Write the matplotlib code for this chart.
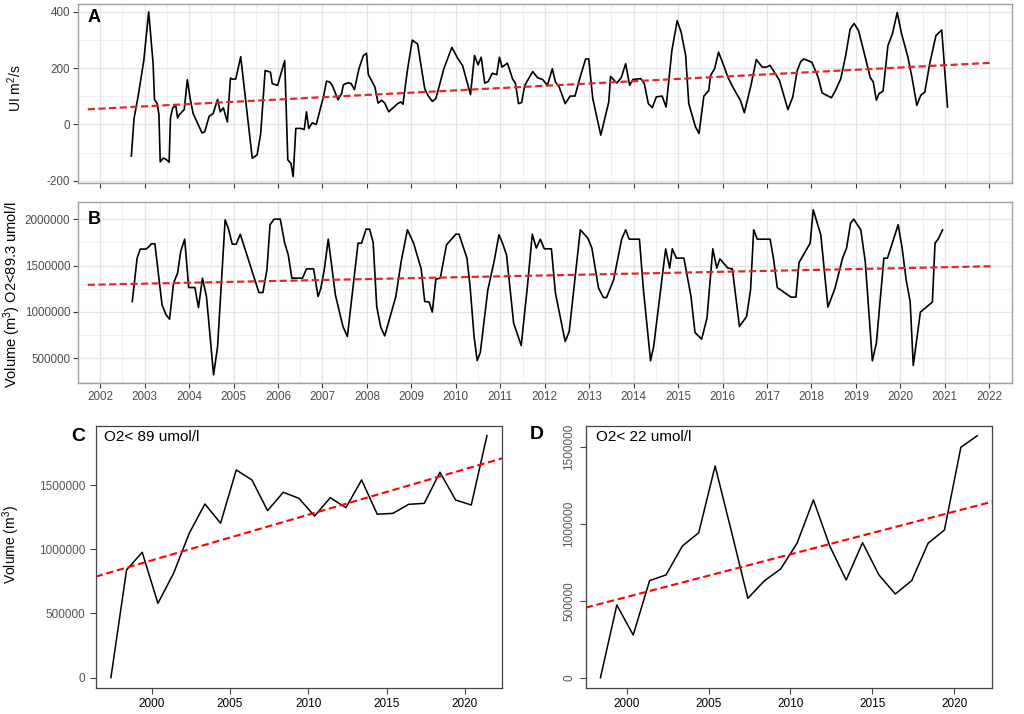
import matplotlib
matplotlib.use("Agg")
import matplotlib.pyplot as plt
from matplotlib.ticker import FuncFormatter

plt.rcParams['font.family'] = ['Liberation Sans', 'DejaVu Sans']
plt.rcParams['mathtext.fontset'] = 'custom'
plt.rcParams['mathtext.rm'] = 'Liberation Sans'
plt.rcParams['mathtext.it'] = 'Liberation Sans'

# panel A: upwelling index, monthly (decimal year, value)
a_years = [2002.70, 2002.76, 2002.85, 2002.98, 2003.09, 2003.19, 2003.22, 2003.28, 2003.32, 2003.35,
           2003.42, 2003.48, 2003.55, 2003.58, 2003.63, 2003.70, 2003.74, 2003.78, 2003.89, 2003.96,
           2004.03, 2004.09, 2004.29, 2004.35, 2004.45, 2004.54, 2004.64, 2004.70, 2004.77, 2004.86,
           2004.93, 2004.97, 2005.05, 2005.16, 2005.42, 2005.53, 2005.61, 2005.71, 2005.83, 2005.87,
           2005.99, 2006.15, 2006.22, 2006.29, 2006.34, 2006.40, 2006.51, 2006.59, 2006.64, 2006.69,
           2006.77, 2006.86, 2006.96, 2007.03, 2007.09, 2007.16, 2007.22, 2007.35, 2007.43, 2007.47,
           2007.57, 2007.64, 2007.72, 2007.82, 2007.92, 2007.99, 2008.03, 2008.18, 2008.25, 2008.33,
           2008.40, 2008.49, 2008.69, 2008.76, 2008.81, 2008.91, 2009.02, 2009.14, 2009.30, 2009.37,
           2009.47, 2009.55, 2009.73, 2009.91, 2010.05, 2010.15, 2010.33, 2010.42, 2010.50, 2010.57,
           2010.65, 2010.73, 2010.82, 2010.92, 2010.98, 2011.04, 2011.16, 2011.28, 2011.34, 2011.41,
           2011.48, 2011.55, 2011.73, 2011.84, 2011.95, 2012.06, 2012.17, 2012.24, 2012.32, 2012.46,
           2012.57, 2012.68, 2012.79, 2012.92, 2012.99, 2013.08, 2013.26, 2013.44, 2013.48, 2013.62,
           2013.72, 2013.82, 2013.91, 2013.98, 2014.16, 2014.24, 2014.33, 2014.42, 2014.51, 2014.64,
           2014.73, 2014.86, 2014.98, 2015.07, 2015.17, 2015.24, 2015.39, 2015.47, 2015.58, 2015.69,
           2015.73, 2015.82, 2015.91, 2016.02, 2016.12, 2016.23, 2016.40, 2016.49, 2016.63, 2016.76,
           2016.89, 2016.99, 2017.07, 2017.14, 2017.28, 2017.47, 2017.58, 2017.68, 2017.76, 2017.83,
           2018.01, 2018.15, 2018.24, 2018.45, 2018.55, 2018.66, 2018.77, 2018.87, 2018.96, 2019.06,
           2019.21, 2019.32, 2019.39, 2019.46, 2019.52, 2019.61, 2019.72, 2019.82, 2019.93, 2020.02,
           2020.17, 2020.26, 2020.37, 2020.46, 2020.55, 2020.66, 2020.80, 2020.93, 2021.06]
a_vals = [-112, 21, 98, 227, 400, 216, 89, 75, 36, -133,
          -119, -124, -134, 23, 59, 67, 23, 35, 53, 159,
          86, 39, -30, -26, 29, 39, 89, 45, 59, 9,
          165, 161, 162, 241, -120, -108, -32, 192, 186, 145,
          139, 227, -126, -138, -185, -14, -14, -18, 45, -14,
          6, 0, 62, 104, 154, 151, 139, 88, 110, 141,
          148, 146, 124, 198, 245, 253, 178, 133, 76, 86,
          76, 45, 74, 80, 72, 192, 300, 286, 127, 104,
          82, 92, 198, 274, 233, 210, 106, 245, 212, 239,
          147, 153, 182, 177, 239, 204, 218, 160, 147, 74,
          78, 139, 188, 166, 160, 139, 198, 151, 135, 74,
          101, 101, 165, 233, 233, 92, -38, 80, 171, 147,
          166, 216, 139, 160, 163, 145, 74, 60, 98, 101,
          62, 263, 369, 327, 245, 74, -8, -32, 101, 121,
          174, 198, 257, 212, 168, 133, 86, 42, 133, 231,
          204, 204, 210, 192, 157, 53, 98, 192, 224, 233,
          221, 168, 112, 95, 124, 163, 245, 339, 359, 333,
          239, 168, 151, 86, 110, 118, 280, 322, 398, 327,
          239, 168, 68, 104, 115, 216, 316, 336, 62]
a_trend_years = [2001.72, 2022.03]
a_trend_vals = [54, 219]

# panel B: hypoxic volume O2<89.3 umol/l
b_years = [2002.72, 2002.83, 2002.90, 2003.03, 2003.10, 2003.15, 2003.23, 2003.39, 2003.48, 2003.56,
           2003.65, 2003.74, 2003.81, 2003.90, 2003.99, 2004.13, 2004.21, 2004.30, 2004.39, 2004.55,
           2004.64, 2004.81, 2004.88, 2004.97, 2005.06, 2005.15, 2005.57, 2005.66, 2005.75, 2005.82,
           2005.91, 2006.05, 2006.15, 2006.23, 2006.31, 2006.55, 2006.64, 2006.80, 2006.90, 2006.96,
           2007.04, 2007.13, 2007.29, 2007.46, 2007.56, 2007.80, 2007.88, 2007.98, 2008.06, 2008.14,
           2008.22, 2008.31, 2008.40, 2008.65, 2008.77, 2008.91, 2009.05, 2009.22, 2009.30, 2009.40,
           2009.47, 2009.55, 2009.65, 2009.79, 2010.00, 2010.07, 2010.25, 2010.32, 2010.41, 2010.48,
           2010.55, 2010.72, 2010.86, 2010.97, 2011.05, 2011.14, 2011.30, 2011.47, 2011.61, 2011.72,
           2011.81, 2011.90, 2011.99, 2012.15, 2012.24, 2012.46, 2012.55, 2012.80, 2012.97, 2013.06,
           2013.21, 2013.32, 2013.39, 2013.55, 2013.73, 2013.82, 2013.90, 2014.13, 2014.22, 2014.38,
           2014.45, 2014.72, 2014.81, 2014.87, 2014.96, 2015.13, 2015.29, 2015.38, 2015.53, 2015.65,
           2015.78, 2015.87, 2015.94, 2016.12, 2016.22, 2016.38, 2016.54, 2016.63, 2016.70, 2016.78,
           2017.07, 2017.15, 2017.23, 2017.54, 2017.65, 2017.72, 2017.97, 2018.04, 2018.21, 2018.37,
           2018.53, 2018.70, 2018.79, 2018.88, 2018.95, 2019.11, 2019.21, 2019.37, 2019.46, 2019.63,
           2019.71, 2019.95, 2020.04, 2020.13, 2020.22, 2020.29, 2020.45, 2020.72, 2020.78, 2020.85,
           2020.95]
b_vals = [1112000, 1580000, 1677000, 1677000, 1705000, 1734000, 1734000, 1077000, 969000, 922000,
          1310000, 1418000, 1651000, 1784000, 1263000, 1263000, 1047000, 1364000, 1166000, 322000,
          627000, 1992000, 1903000, 1731000, 1731000, 1838000, 1209000, 1209000, 1454000, 1939000,
          2000000, 2000000, 1741000, 1615000, 1364000, 1364000, 1464000, 1464000, 1166000, 1249000,
          1454000, 1784000, 1184000, 843000, 735000, 1741000, 1741000, 1892000, 1892000, 1748000,
          1058000, 836000, 742000, 1166000, 1543000, 1885000, 1741000, 1464000, 1112000, 1106000,
          998000, 1353000, 1364000, 1723000, 1838000, 1838000, 1580000, 1274000, 735000, 476000,
          562000, 1238000, 1543000, 1831000, 1741000, 1615000, 879000, 638000, 1274000, 1838000,
          1688000, 1784000, 1680000, 1680000, 1203000, 681000, 789000, 1885000, 1795000, 1688000,
          1256000, 1155000, 1155000, 1346000, 1784000, 1885000, 1784000, 1784000, 1238000, 473000,
          627000, 1680000, 1472000, 1680000, 1580000, 1580000, 1166000, 778000, 707000, 933000,
          1680000, 1472000, 1572000, 1472000, 1464000, 843000, 950000, 1238000, 1885000, 1784000,
          1784000, 1561000, 1263000, 1159000, 1159000, 1532000, 1741000, 2100000, 1831000, 1052000,
          1256000, 1580000, 1688000, 1957000, 2000000, 1885000, 1543000, 473000, 664000, 1580000,
          1580000, 1939000, 1688000, 1346000, 1112000, 422000, 998000, 1106000, 1741000, 1784000,
          1885000]
b_trend_years = [2001.72, 2022.03]
b_trend_vals = [1292000, 1492000]

# panel C: yearly volume O2<89 umol/l
c_years = [1997.4, 1998.4, 1999.4, 2000.4, 2001.4, 2002.4, 2003.4, 2004.4, 2005.4, 2006.4,
           2007.4, 2008.4, 2009.4, 2010.4, 2011.4, 2012.4, 2013.4, 2014.4, 2015.4, 2016.4,
           2017.4, 2018.4, 2019.4, 2020.4, 2021.4]
c_vals = [0, 839000, 977000, 579000, 813000, 1125000, 1353000, 1203000, 1618000, 1540000,
          1301000, 1444000, 1397000, 1259000, 1402000, 1324000, 1540000, 1273000, 1280000, 1350000,
          1358000, 1600000, 1384000, 1345000, 1885000]
c_trend_years = [1996.43, 2022.38]
c_trend_vals = [787000, 1709000]

# panel D: yearly volume O2<22 umol/l
d_years = [1998.4, 1999.4, 2000.4, 2001.4, 2002.4, 2003.4, 2004.4, 2005.4, 2006.4, 2007.4,
           2008.4, 2009.4, 2010.4, 2011.4, 2012.4, 2013.4, 2014.4, 2015.4, 2016.4, 2017.4,
           2018.4, 2019.4, 2020.4, 2021.4]
d_vals = [0, 473000, 278000, 632000, 669000, 857000, 944000, 1378000, 950000, 517000,
          630000, 708000, 875000, 1157000, 857000, 636000, 879000, 669000, 545000, 632000,
          875000, 962000, 1500000, 1575000]
d_trend_years = [1997.50, 2022.32]
d_trend_vals = [456000, 1146000]

W, H = 1024, 714


def rect(l, t, r, b):
    return [l / W, 1 - b / H, (r - l) / W, (b - t) / H]


fig = plt.figure(figsize=(W / 100, H / 100), dpi=100)
axA = fig.add_axes(rect(78, 3.5, 1011.5, 183))
axB = fig.add_axes(rect(78, 201.5, 1011.5, 383))
axC = fig.add_axes(rect(95.7, 425.7, 502.3, 687.7))
axD = fig.add_axes(rect(585.7, 425.7, 992.3, 687.7))

plain = FuncFormatter(lambda v, p: '%d' % v)

# ggplot-like panels
for ax in (axA, axB):
    ax.set_xlim(2001.72, 2022.03)
    ax.set_xticks(range(2002, 2023))
    ax.set_xticks([y + 0.5 for y in range(2001, 2023)], minor=True)
    ax.set_axisbelow(True)
    ax.grid(which='major', color='#E4E4E4', lw=0.9)
    ax.grid(which='minor', color='#EFEFEF', lw=0.7)
    for s in ax.spines.values():
        s.set_color('#A0A0A0')
        s.set_linewidth(1.0)
    ax.tick_params(which='major', direction='out', length=3.5, width=0.8, color='#333333',
                   labelcolor='#4D4D4D', labelsize=8.4, pad=2)
    ax.tick_params(which='minor', length=0)
    ax.yaxis.set_major_formatter(plain)

axA.plot(a_years, a_vals, color='black', lw=1.2)
axA.plot(a_trend_years, a_trend_vals, color='#E0282A', lw=1.6, dashes=(3.2, 1.6))
axA.set_ylim(-208, 430)
axA.set_yticks([-200, 0, 200, 400])
axA.set_yticks([-100, 100, 300], minor=True)
axA.tick_params(axis='x', labelbottom=False)

axB.plot(b_years, b_vals, color='black', lw=1.2)
axB.plot(b_trend_years, b_trend_vals, color='#E0282A', lw=1.6, dashes=(3.2, 1.6))
axB.set_ylim(234000, 2190000)
axB.set_yticks([500000, 1000000, 1500000, 2000000])
axB.set_yticks([250000, 750000, 1250000, 1750000], minor=True)

fig.text(15 / W, 1 - 88 / H, 'UI m$^2$/s', rotation=90, ha='center', va='center', fontsize=10)
fig.text(12 / W, 1 - 295 / H, 'Volume (m$^3$) O2<89.3 umol/l', rotation=90, ha='center',
         va='center', fontsize=10.5)
fig.text(88 / W, 1 - 17 / H, 'A', fontsize=13, fontweight='bold', ha='left', va='center')
fig.text(88 / W, 1 - 219 / H, 'B', fontsize=13, fontweight='bold', ha='left', va='center')

# base-R-like panels
for ax in (axC, axD):
    for s in ax.spines.values():
        s.set_color('#444444')
        s.set_linewidth(0.9)
    ax.tick_params(direction='out', length=4, width=0.8, color='#444444', labelsize=8.5)
    ax.tick_params(axis='y', labelcolor='#555555')
    ax.tick_params(axis='x', labelcolor='black')
    ax.set_xticks([2000, 2005, 2010, 2015, 2020])
    ax.set_yticks([0, 500000, 1000000, 1500000])
    ax.yaxis.set_major_formatter(plain)

axC.plot(c_years, c_vals, color='black', lw=1.1)
axC.plot(c_trend_years, c_trend_vals, color='red', lw=1.5, dashes=(3.5, 1.8))
axC.set_xlim(1996.43, 2022.38)
axC.set_ylim(-77900, 1962600)
axC.text(0.02, 0.955, 'O2< 89 umol/l', transform=axC.transAxes, fontsize=11, va='center')
fig.text(11 / W, 1 - 545 / H, 'Volume (m$^3$)', rotation=90, ha='center', va='center', fontsize=10)
fig.text(71 / W, 1 - 436 / H, 'C', fontsize=14, fontweight='bold', ha='left', va='center')

axD.plot(d_years, d_vals, color='black', lw=1.1)
axD.plot(d_trend_years, d_trend_vals, color='red', lw=1.5, dashes=(3.5, 1.8))
axD.set_xlim(1997.50, 2022.32)
axD.set_ylim(-65100, 1640600)
for lab in axD.get_yticklabels():
    lab.set_rotation(90)
    lab.set_va('center')
axD.text(0.025, 0.955, 'O2< 22 umol/l', transform=axD.transAxes, fontsize=11, va='center')
fig.text(530 / W, 1 - 435 / H, 'D', fontsize=14, fontweight='bold', ha='left', va='center')

fig.savefig('out.png', dpi=100)
